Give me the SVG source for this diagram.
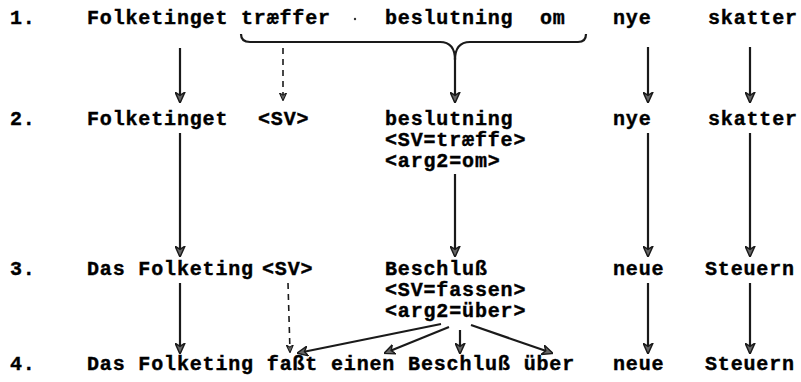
<svg xmlns="http://www.w3.org/2000/svg" width="801" height="382" viewBox="0 0 801 382">
<style>
text{font-family:"Liberation Mono","DejaVu Sans Mono",monospace;font-weight:bold;font-size:20px;letter-spacing:0.84px;fill:#000;stroke:#000;stroke-width:0.4}
.c{stroke:#1a1a1a;stroke-width:2.2;fill:none}
.d{stroke:#1a1a1a;stroke-width:1.6;fill:none;stroke-dasharray:6 5}
</style>
<defs>
<marker id="ah" viewBox="0 0 10 10" refX="9" refY="5" markerWidth="11" markerHeight="11" markerUnits="userSpaceOnUse" orient="auto">
<path d="M0,0.5 L10,5 L0,9.5 L3,5 Z" fill="#666" stroke="#1a1a1a" stroke-width="1.3"/>
</marker>
<marker id="ahs" viewBox="0 0 10 10" refX="9" refY="5" markerWidth="8" markerHeight="8" markerUnits="userSpaceOnUse" orient="auto">
<path d="M0,0.5 L10,5 L0,9.5 L3,5 Z" fill="#666" stroke="#1a1a1a" stroke-width="1.3"/>
</marker>
</defs>
<rect width="801" height="382" fill="#fff"/>
<g id="row1">
<text x="10" y="24">1.</text>
<text x="87" y="24">Folketinget</text>
<text x="241" y="24">træffer</text>
<circle cx="355" cy="19" r="1.2" fill="#333"/>
<text x="385" y="24">beslutning</text>
<text x="540" y="24">om</text>
<text x="613" y="24">nye</text>
<text x="708" y="24">skatter</text>
</g>
<g id="row2">
<text x="10" y="125">2.</text>
<text x="87" y="125">Folketinget</text>
<text x="258" y="125">&lt;SV&gt;</text>
<text x="385" y="125">beslutning</text>
<text x="385" y="146">&lt;SV=træffe&gt;</text>
<text x="385" y="167">&lt;arg2=om&gt;</text>
<text x="613" y="125">nye</text>
<text x="708" y="125">skatter</text>
</g>
<g id="row3">
<text x="10" y="275">3.</text>
<text x="87" y="275">Das Folketing</text>
<text x="262" y="275">&lt;SV&gt;</text>
<text x="385" y="275">Beschluß</text>
<text x="385" y="296">&lt;SV=fassen&gt;</text>
<text x="385" y="317">&lt;arg2=über&gt;</text>
<text x="613" y="275">neue</text>
<text x="705" y="275">Steuern</text>
</g>
<g id="row4">
<text x="10" y="370">4.</text>
<text x="87" y="370">Das Folketing faßt einen Beschluß über</text>
<text x="613" y="370">neue</text>
<text x="705" y="370">Steuern</text>
</g>
<g id="connectors">
<path class="c" d="M241,34 Q241,42 250,42 L440,42 Q455,42 455,60 Q455,42 470,42 L578,42 Q586,42 586,34"/>
<path class="c" d="M455,58 L455,102" marker-end="url(#ah)"/>
<path class="c" d="M180,48 L180,102" marker-end="url(#ah)"/>
<path class="d" d="M283,48 L283,100" marker-end="url(#ahs)"/>
<path class="c" d="M648,47 L648,102" marker-end="url(#ah)"/>
<path class="c" d="M750,47 L750,102" marker-end="url(#ah)"/>
<path class="c" d="M180,133 L180,256" marker-end="url(#ah)"/>
<path class="c" d="M455,174 L455,256" marker-end="url(#ah)"/>
<path class="c" d="M648,133 L648,256" marker-end="url(#ah)"/>
<path class="c" d="M750,133 L750,256" marker-end="url(#ah)"/>
<path class="c" d="M180,283 L180,353" marker-end="url(#ah)"/>
<path class="d" d="M288,283 L290,352" marker-end="url(#ahs)"/>
<path class="c" d="M441,324 L298,353" marker-end="url(#ah)"/>
<path class="c" d="M449,327 L385,353" marker-end="url(#ah)"/>
<path class="c" d="M460,330 L460,353" marker-end="url(#ah)"/>
<path class="c" d="M471,325 L552,353" marker-end="url(#ah)"/>
<path class="c" d="M648,283 L648,353" marker-end="url(#ah)"/>
<path class="c" d="M750,283 L750,353" marker-end="url(#ah)"/>
</g>
</svg>
